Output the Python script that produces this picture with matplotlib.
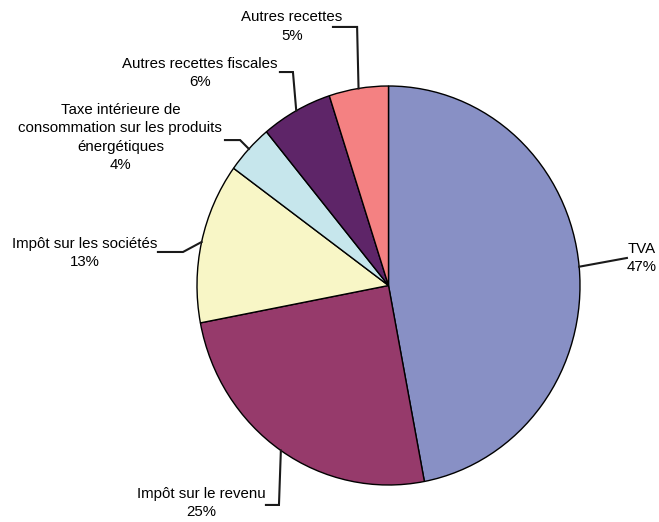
import numpy as np
import matplotlib
matplotlib.use("Agg")
import matplotlib.pyplot as plt

plt.rcParams['font.family'] = ['Liberation Sans', 'DejaVu Sans']

# data
categories = ["TVA", "Impôt sur le revenu", "Impôt sur les sociétés",
              "Taxe intérieure de\nconsommation sur les produits\nénergétiques",
              "Autres recettes fiscales", "Autres recettes"]
shares = [47, 25, 13, 4, 6, 5]
colors = ["#8890C5", "#963A6B", "#F8F6C6", "#C6E6EC", "#5E2568", "#F48182"]

# label placement (axes data units, pie radius = 1)
text_pos = [(1.245, 0.138), (-0.98, -1.09), (-1.585, 0.163),
            (-1.40, 0.742), (-0.984, 1.065), (-0.504, 1.298)]
text_ha = ["left", "center", "center", "center", "center", "center"]
elbows = [None, (-0.572, -1.10), (-1.073, 0.168), (-0.775, 0.729),
          (-0.499, 1.070), (-0.164, 1.296)]
ends = [(1.245, 0.138), (-0.640, -1.10), (-1.204, 0.168), (-0.854, 0.729),
        (-0.567, 1.070), (-0.290, 1.296)]

fig = plt.figure(figsize=(6.59, 5.22), dpi=100)
ax = fig.add_axes([197 / 659, 37 / 522, 383 / 659, 399 / 522])

wedges, _ = ax.pie(shares, colors=colors, startangle=90, counterclock=False,
                   wedgeprops=dict(edgecolor="black", linewidth=1.0))
ax.set_aspect("auto")
ax.set_xlim(-1, 1)
ax.set_ylim(-1, 1)
ax.axis("off")

for i, w in enumerate(wedges):
    mid = np.deg2rad((w.theta1 + w.theta2) / 2)
    ax_pt = (np.cos(mid), np.sin(mid))
    pts = [ax_pt]
    if elbows[i] is not None:
        pts.append(elbows[i])
    pts.append(ends[i])
    xs, ys = zip(*pts)
    ax.plot(xs, ys, color="#1a1a1a", lw=1.5, clip_on=False,
            solid_joinstyle="miter")
    ax.text(text_pos[i][0], text_pos[i][1], f"{categories[i]}\n{shares[i]}%",
            ha=text_ha[i], va="center", multialignment="center",
            fontsize=10.8, linespacing=1.42, clip_on=False)

fig.savefig("out.png", dpi=100)
